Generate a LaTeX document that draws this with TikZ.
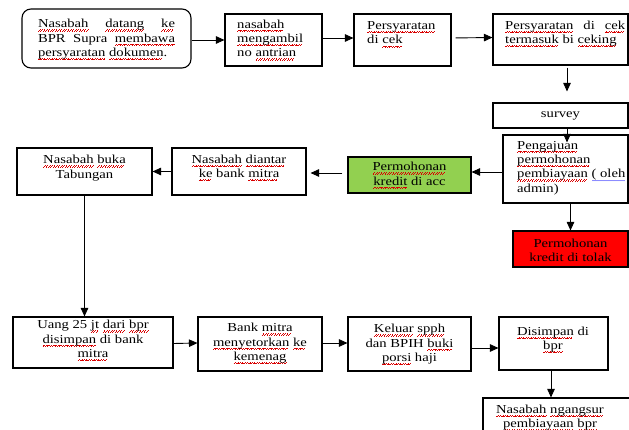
\documentclass[tikz,border=0pt]{standalone}
\usepackage{fontspec}
\setmainfont{Liberation Serif}[FakeStretch=1.2]
\usetikzlibrary{arrows.meta}
\newsavebox\sqbox
\newcommand\sq[1]{\sbox\sqbox{#1}\leavevmode\rlap{\hbox to \wd\sqbox{\color{red!85!black}\leaders\hbox to 2.4pt{\rule[-3.4pt]{0.8pt}{0.6pt}\rule[-2.8pt]{0.8pt}{0.6pt}\rule[-2.2pt]{0.8pt}{0.6pt}}\hfill}}\usebox\sqbox}
\newcommand\bl[1]{\sbox\sqbox{#1}\leavevmode\rlap{\hbox to \wd\sqbox{\color{blue!45}\leaders\hbox{\rule[-3.6pt]{1pt}{1.3pt}}\hfill}}\usebox\sqbox}
\tikzset{
  box/.style={draw=black,line width=1.1pt,rectangle,inner sep=0pt},
  txt/.style={inner sep=0pt,font=\fontsize{12.2}{14.3}\selectfont,text=black},
  arr/.style={line width=0.9pt,-{Triangle[length=8.5pt,width=7.5pt]}},
}
\newcommand\bx[6]{\node[box,#6,minimum width={#4-#2},minimum height={#5-#3}] (#1) at ({(#2+#4)/2},{(#3+#5)/2}) {};}
\begin{document}
\begin{tikzpicture}[x=1pt,y=-1pt]
\useasboundingbox (0,0) rectangle (629,430);
\clip (0,0) rectangle (629,430);
% boxes
\bx{b1}{22}{9}{191}{68}{rounded corners=9pt}
\bx{b2}{225}{14}{322}{66}{}
\bx{b3}{354}{14}{451}{66}{}
\bx{b4}{493}{14}{628}{65}{}
\bx{sv}{493}{103}{628}{128}{}
\bx{pg}{503}{135}{628}{203}{}
\bx{acc}{348}{157}{471}{193}{fill={rgb,255:red,146;green,208;blue,80}}
\bx{tol}{513}{231}{628}{267}{fill=red}
\bx{dia}{172}{148}{306}{195}{}
\bx{buk}{17}{148}{152}{195}{}
\bx{ua}{13}{317}{173}{368}{}
\bx{bm}{198}{317}{322}{371}{}
\bx{kl}{348}{317}{471}{371}{}
\bx{ds}{499}{317}{608}{370}{}
\bx{ng}{483}{398}{640}{445}{}
% texts
\node[txt,align=left] (t1) at (106.5,39.5) {\hbox to 137pt{\sq{Nasabah}\hfill\sq{datang}\hfill\sq{ke}}\\\hbox to 137pt{BPR\hfill Supra\hfill\sq{membawa}}\\\sq{persyaratan} \sq{dokumen}.};
\node[txt,align=left,anchor=west] (t2) at (237,40) {\sq{nasabah}\\\sq{mengambil}\\no \sq{antrian}};
\node[txt,align=left,anchor=west] (t3) at (367,34.5) {\sq{Persyaratan}\\di \sq{cek}};
\node[txt,align=left,anchor=west] (t4) at (505,34) {\hbox to 120pt{\sq{Persyaratan}\hfill di\hfill\sq{cek}}\\\sq{termasuk} bi \sq{ceking}};
\node[txt] (t5) at (560.5,115.5) {survey};
\node[txt,align=left,anchor=west] (t6) at (517,168) {\sq{Pengajuan}\\\sq{permohonan}\\\sq{pembiayaan} \bl{( oleh}\\admin)};
\node[txt,align=center] (t7) at (409.5,175.5) {\sq{Permohonan}\\\sq{kredit} di acc};
\node[txt,align=center] (t8) at (570.5,250.5) {Permohonan\\kredit di tolak};
\node[txt,align=center] (t9) at (239,168) {\sq{Nasabah} \sq{diantar}\\\sq{ke} bank \sq{mitra}};
\node[txt,align=center] (t10) at (84.5,168) {\sq{Nasabah} \sq{buka}\\Tabungan};
\node[txt,align=center] (t11) at (93,340.5) {Uang 25 \sq{jt} \sq{dari} \sq{bpr}\\\sq{disimpan} di bank\\\sq{mitra}};
\node[txt,align=center] (t12) at (260,343.5) {Bank \sq{mitra}\\\sq{menyetorkan} \sq{ke}\\\sq{kemenag}};
\node[txt,align=center] (t13) at (409.5,344.5) {\sq{Keluar} \sq{spph}\\dan BPIH \sq{buki}\\\sq{porsi} haji};
\node[txt,align=center] (t14) at (553,340) {\sq{Disimpan} di\\\sq{bpr}};
\node[txt,align=center] (t15) at (550,418) {\sq{Nasabah} \sq{ngangsur}\\\sq{pembiayaan} \sq{bpr}};
% connectors
\draw[arr] (b1.east|-b2) -- (b2.west);
\draw[arr] ([yshift=2pt]b2.east) -- ([yshift=2pt]b3.west);
\draw[arr,shorten <=4pt] ([yshift=2pt]b3.east) -- ([yshift=2pt]b4.west);
\draw[arr,shorten <=2pt,shorten >=11pt] ([xshift=6.5pt]b4.south) -- ([xshift=6.5pt]sv.north);
\draw[arr,shorten >=-8pt] ([xshift=6.5pt]sv.south) -- ([xshift=1.5pt]pg.north);
\draw[arr] ([yshift=-3pt]pg.west) -- ([yshift=3pt]acc.east);
\draw[arr,shorten <=5pt,shorten >=4pt] ([yshift=2pt]acc.west) -- ([yshift=-1.5pt]dia.east);
\draw[arr] (dia.west) -- (buk.east);
\draw[arr] (buk.south) -- (buk.south|-ua.north);
\draw[arr] (tol.north|-pg.south) -- (tol.north);
\draw[arr] ([yshift=-1pt]ua.east) -- ([yshift=1pt]bm.west);
\draw[arr] ([yshift=1pt]bm.east) -- ([yshift=1pt]kl.west);
\draw[arr] ([yshift=-4pt]kl.east) -- ([yshift=-4.5pt]ds.west);
\draw[arr] ([xshift=-2.5pt]ds.south) -- ([xshift=-2.5pt]ds.south|-ng.north);
\end{tikzpicture}
\end{document}
